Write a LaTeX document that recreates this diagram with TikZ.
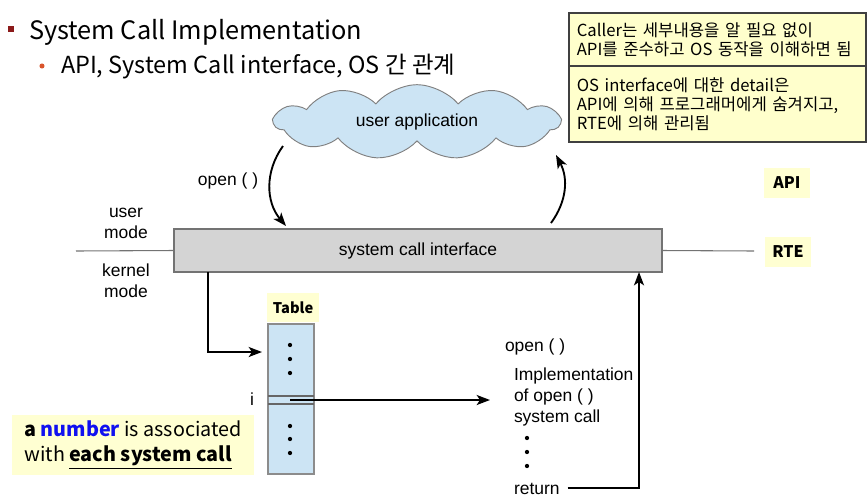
\documentclass[tikz,border=0pt]{standalone}
\usepackage{fontspec}
\setmainfont{Liberation Sans}
\newfontfamily\krfont{Noto Sans CJK KR}
\usetikzlibrary{arrows.meta,shapes.symbols,positioning}

\definecolor{notefill}{HTML}{FFFFCC}
\definecolor{tagfill}{HTML}{FFFFD2}
\definecolor{cloudfill}{HTML}{CCE4F4}
\definecolor{boxfill}{HTML}{D4D4D4}
\definecolor{bulletred}{HTML}{8B1A1A}
\definecolor{bulletorange}{HTML}{D9542B}
\definecolor{numblue}{HTML}{1010F0}

\begin{document}
\begin{tikzpicture}[x=0.75pt, y=-0.75pt,
        every node/.style={inner sep=0pt, outer sep=0pt},
        every path/.style={line width=1.4pt},
        lbl/.style={font=\fontsize{13.1}{15.4}\selectfont},
        tag/.style={fill=tagfill, font=\krfont\bfseries\fontsize{12}{14}\selectfont, minimum width=34pt, minimum height=22pt},
        note/.style={draw=black!75, line width=0.8pt, fill=notefill, minimum width=222.75pt, text width=211pt, inner xsep=5.8pt, align=left, font=\krfont\fontsize{12.5}{14.25}\selectfont},
        arrow/.style={-{Stealth[length=10pt,width=7.5pt,inset=2.5pt]}},
        dot/.style={circle, fill=black, minimum size=3.2pt}
    ]
    \useasboundingbox (0,0) rectangle (868,497);

    % Title
    \node[fill=bulletred, minimum size=5.2pt] (sq) at (11,29) {};
    \node[anchor=base west, font=\krfont\fontsize{19}{22}\selectfont] (title) at (29,39) {System Call Implementation};
    \node[circle, fill=bulletorange, minimum size=3.8pt] (bul) at (42,66) {};
    \node[anchor=base west, font=\krfont\fontsize{17.6}{20}\selectfont] (sub) at (61,73) {API, System Call interface, OS 간 관계};

    % Notes
    \node[note, minimum height=39.75pt, anchor=north west] (note1) at (569,13) {Caller는 세부내용을 알 필요 없이\\API를 준수하고 OS 동작을 이해하면 됨};
    \node[note, minimum height=57pt, below=0pt of note1] (note2) {OS interface에 대한 detail은\\API에 의해 프로그래머에게 숨겨지고,\\RTE에 의해 관리됨};

    % Nodes
    \node[cloud, cloud puffs=11, cloud puff arc=100, aspect=3.8, draw=black!50, line width=0.7pt, fill=cloudfill, minimum width=214pt, minimum height=56pt, lbl] (app) at (417,122) {user application};
    \node[draw=black!55, line width=0.8pt, fill=boxfill, minimum width=366pt, minimum height=32.25pt, lbl] (sci) at (418,250.5) {system call interface};
    \node[lbl, align=center] (umode) at (126,223.5) {user\\mode};
    \node[lbl, align=center] (kmode) at (126,281) {kernel\\mode};
    \node[lbl] (openl) at (228,181) {open ( )};
    \node[tag] (api) at (787,183) {API};
    \node[tag] (rte) at (788,252) {RTE};

    \node[tag, minimum width=39pt, font=\krfont\bfseries\fontsize{11}{13}\selectfont] (tbltag) at (293,307.5) {Table};
    \node[draw=black!45, line width=0.8pt, fill=cloudfill, minimum width=34.5pt, minimum height=112.5pt] (tbl) at (291,399) {};
    \draw[black!60, line width=0.8pt] ([yshift=2.25pt]tbl.west) -- ([yshift=2.25pt]tbl.east);
    \draw[black!60, line width=0.8pt] ([yshift=-3.75pt]tbl.west) -- ([yshift=-3.75pt]tbl.east);
    \foreach \y in {345,359,373,426,439,453}
        \node[dot] (tdot\y) at (290,\y) {};
    \node[lbl] (idx) at (252,399) {i};

    \node[lbl, anchor=west] (openr) at (505,347) {open ( )};
    \node[lbl, anchor=west, align=left] (impl) at (514,397) {Implementation\\of open ( )\\system call};
    \foreach \y in {438,452,466}
        \node[dot] (idot\y) at (527,\y) {};
    \node[lbl, anchor=west] (ret) at (514,489) {return};

    \node[fill=tagfill, minimum width=181.5pt, minimum height=45pt, align=left, font=\krfont\fontsize{14.8}{18.75}\selectfont] (numnote) at (133,445)
        {\textbf{a \textcolor{numblue}{number}} is associated\\with \underline{\textbf{each system call}}};

    % Edges
    \coordinate (modeL) at (76,251);
    \coordinate (modeR) at (754,251);
    \draw[black!55, line width=0.8pt] (modeL) -- (sci.west);
    \draw[black!55, line width=0.8pt] (sci.east) -- (modeR);

    \coordinate (openS) at (283,146);
    \coordinate (openE) at (286,226);
    \coordinate (backS) at (551,223);
    \coordinate (backE) at (556,155);
    \draw[arrow] (openS) to[bend right=38] (openE);
    \draw[arrow] (backS) to[bend right=32] (backE);

    \coordinate (callbend) at (208,352);
    \draw[arrow, shorten >=4.5pt] (callbend |- sci.south) -- (callbend) -- (callbend -| tbl.west);
    \coordinate (rowi) at (290,400);
    \coordinate (implin) at (490,400);
    \draw[arrow] (rowi) -- (implin);
    \coordinate (retturn) at (639,488);
    \draw[arrow] ([xshift=6pt]ret.east |- retturn) -- (retturn) -- (retturn |- sci.south);

\end{tikzpicture}
\end{document}
